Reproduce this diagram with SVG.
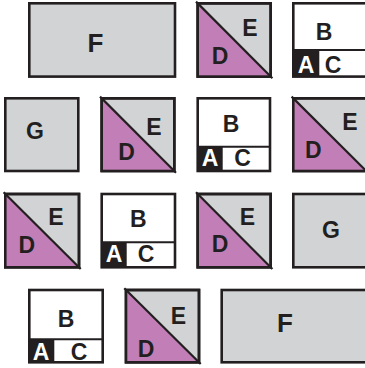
<svg xmlns="http://www.w3.org/2000/svg" width="365" height="368" viewBox="0 0 365 368">
<style>
.frame{stroke:#231f20;stroke-width:2.6;}
.grey{fill:#d1d3d4;}
.white{fill:#ffffff;}
.purple{fill:#c27fb7;stroke:none;}
.blk{fill:#231f20;stroke:none;}
.diag{stroke:#231f20;stroke-width:2.2;fill:none;}
.div{stroke:#231f20;stroke-width:2;fill:none;}
text{font-family:"Liberation Sans",Arial,sans-serif;font-weight:700;fill:#231f20;text-anchor:middle;}
.s{font-size:23px;}
.l{font-size:26px;}
.w{fill:#ffffff;}
</style>
<rect width="365" height="368" fill="#ffffff"/>

<!-- Row 1 -->
<g id="F1">
<rect class="frame grey" x="29.3" y="3.3" width="145.7" height="73.3"/>
<text class="l" x="95.5" y="52">F</text>
</g>
<g id="DE1">
<rect class="frame grey" x="197.7" y="3.3" width="73" height="73.3"/>
<polygon class="purple" points="197.7,3.3 270.7,76.6 197.7,76.6"/>
<rect class="frame" fill="none" x="197.7" y="3.3" width="73" height="73.3"/>
<line class="diag" x1="196" y1="1.6" x2="272.4" y2="78.3"/>
<text class="s" x="250" y="36">E</text>
<text class="s" x="220" y="63.5">D</text>
</g>
<g id="B1">
<rect class="frame white" x="293.3" y="3.3" width="73" height="73.3"/>
<rect class="blk" x="293.3" y="50" width="26" height="26.6"/>
<line class="div" x1="293.3" y1="50" x2="366.3" y2="50"/>
<text class="s" x="324" y="40">B</text>
<text class="s w" x="306" y="73">A</text>
<text class="s" x="333" y="73">C</text>
</g>

<!-- Row 2 -->
<g id="G1">
<rect class="frame grey" x="5.3" y="98.3" width="73" height="72.7"/>
<text class="s" x="35" y="138.5">G</text>
</g>
<g id="DE2">
<rect class="frame grey" x="101.7" y="98.3" width="72.6" height="72.7"/>
<polygon class="purple" points="101.7,98.3 174.3,171 101.7,171"/>
<rect class="frame" fill="none" x="101.7" y="98.3" width="72.6" height="72.7"/>
<line class="diag" x1="100" y1="96.6" x2="176" y2="172.7"/>
<text class="s" x="154" y="135">E</text>
<text class="s" x="126.5" y="160">D</text>
</g>
<g id="B2">
<rect class="frame white" x="197.7" y="98.3" width="72.3" height="72.7"/>
<rect class="blk" x="197.7" y="146.7" width="25" height="24.3"/>
<line class="div" x1="197.7" y1="146.7" x2="270" y2="146.7"/>
<text class="s" x="231" y="131.5">B</text>
<text class="s w" x="210" y="166">A</text>
<text class="s" x="242.5" y="166">C</text>
</g>
<g id="DE3">
<rect class="frame grey" x="293.3" y="98.3" width="73" height="72.7"/>
<polygon class="purple" points="293.3,98.3 366.3,171 293.3,171"/>
<rect class="frame" fill="none" x="293.3" y="98.3" width="73" height="72.7"/>
<line class="diag" x1="291.6" y1="96.6" x2="368" y2="172.7"/>
<text class="s" x="350" y="129.5">E</text>
<text class="s" x="313.3" y="158">D</text>
</g>

<!-- Row 3 -->
<g id="DE4">
<rect class="frame grey" x="5.3" y="194" width="73.7" height="73.3"/>
<polygon class="purple" points="5.3,194 79,267.3 5.3,267.3"/>
<rect class="frame" fill="none" x="5.3" y="194" width="73.7" height="73.3"/>
<line class="diag" x1="3.6" y1="192.3" x2="80.7" y2="269"/>
<text class="s" x="56" y="225">E</text>
<text class="s" x="26.7" y="253">D</text>
</g>
<g id="B3">
<rect class="frame white" x="101.7" y="194" width="73.3" height="73.3"/>
<rect class="blk" x="101.7" y="242.3" width="25" height="25"/>
<line class="div" x1="101.7" y1="242.3" x2="175" y2="242.3"/>
<text class="s" x="138.3" y="226.5">B</text>
<text class="s w" x="114" y="262.3">A</text>
<text class="s" x="146" y="262.3">C</text>
</g>
<g id="DE5">
<rect class="frame grey" x="197.7" y="194" width="73" height="73.3"/>
<polygon class="purple" points="197.7,194 270.7,267.3 197.7,267.3"/>
<rect class="frame" fill="none" x="197.7" y="194" width="73" height="73.3"/>
<line class="diag" x1="196" y1="192.3" x2="272.4" y2="269"/>
<text class="s" x="247.5" y="225">E</text>
<text class="s" x="220" y="251.5">D</text>
</g>
<g id="G2">
<rect class="frame grey" x="293.3" y="194" width="73" height="73.3"/>
<text class="s" x="331" y="238">G</text>
</g>

<!-- Row 4 -->
<g id="B4">
<rect class="frame white" x="29.3" y="290" width="73.4" height="72.3"/>
<rect class="blk" x="29.3" y="339.3" width="25" height="23"/>
<line class="div" x1="29.3" y1="339.3" x2="102.7" y2="339.3"/>
<text class="s" x="66" y="326.5">B</text>
<text class="s w" x="41" y="360">A</text>
<text class="s" x="79" y="360">C</text>
</g>
<g id="DE6">
<rect class="frame grey" x="126" y="290" width="73" height="72.3"/>
<polygon class="purple" points="126,290 199,362.3 126,362.3"/>
<rect class="frame" fill="none" x="126" y="290" width="73" height="72.3"/>
<line class="diag" x1="124.3" y1="288.3" x2="200.7" y2="364"/>
<text class="s" x="178.3" y="324">E</text>
<text class="s" x="146" y="357">D</text>
</g>
<g id="F2">
<rect class="frame grey" x="221.7" y="290" width="146" height="72.3"/>
<text class="l" x="285" y="332">F</text>
</g>
</svg>
